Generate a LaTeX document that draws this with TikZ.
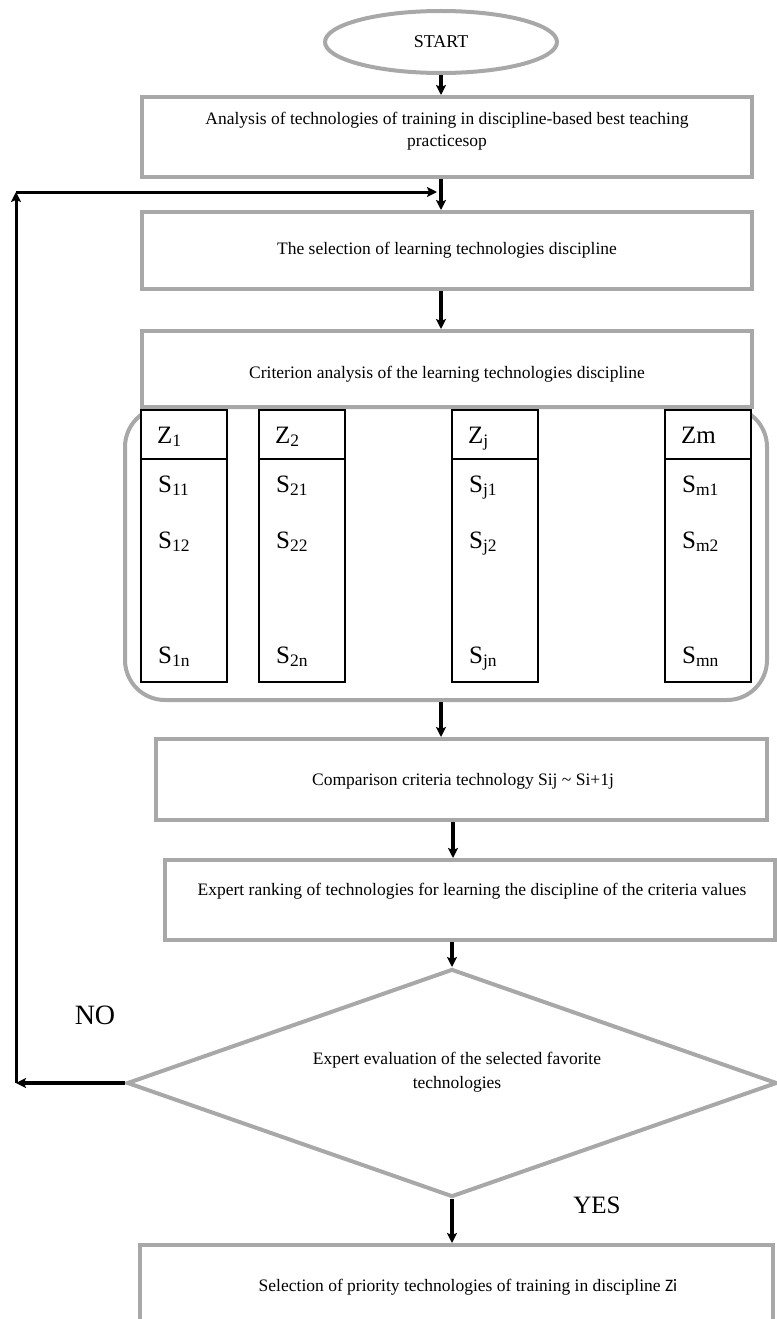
\documentclass[tikz,border=0pt]{standalone}
\usepackage{fontspec}
\setmainfont{Liberation Serif}
\newfontfamily\calib{Carlito}
\usetikzlibrary{shapes.geometric,arrows.meta,calc}
\definecolor{boxgray}{RGB}{168,168,168}
\begin{document}
\begin{tikzpicture}[x=1pt,y=-1pt,
  box/.style={draw=boxgray,line width=4pt,inner sep=0pt},
  col/.style={draw=black,line width=1.2pt,inner sep=0pt,minimum width=86pt},
  txt/.style={inner sep=0pt,font=\fontsize{17.5}{22}\selectfont,align=center},
  big/.style={inner sep=0pt,font=\fontsize{25}{30}\selectfont},
  arr/.style={line width=3.5pt,-{Stealth[length=10pt,width=10pt,inset=2pt]}},
  thinarr/.style={line width=3pt,-{Stealth[length=10pt,width=10pt,inset=2pt]}},
]
\useasboundingbox (0,0) rectangle (776,1319);
% start
\node[box,ellipse,minimum width=232pt,minimum height=62pt,font=\fontsize{18}{20}\selectfont] (start) at (441,42) {START};
% boxes
\node[box,minimum width=610pt,minimum height=80pt] (b1) at (447,137) {};
\node[txt] (t1) at (447,131) {Analysis of technologies of training in discipline-based best teaching\\practicesop};
\node[box,minimum width=610pt,minimum height=77pt] (b2) at (447,250.5) {};
\node[txt] (t2) at (447,250) {The selection of learning technologies discipline};
\node[box,minimum width=610pt,minimum height=76pt] (b3) at (447,369) {};
\node[txt] (t3) at (447,374) {Criterion analysis of the learning technologies discipline};
\node[box,rounded corners=40pt,minimum width=642pt,minimum height=293pt] (crit) at (446,553.5) {};
% columns
\foreach \n/\cx in {1/184,2/302,j/495,m/708}{
  \node[col,minimum height=49pt,fill=white] (z\n h) at (\cx,434.5) {};
  \node[col,minimum height=223pt,fill=white] (z\n b) at (\cx,570.5) {};
}
\node[big,anchor=base west] (lz1) at (157,443) {Z\textsubscript{1}};
\node[big,anchor=base west] (lz2) at (275,443) {Z\textsubscript{2}};
\node[big,anchor=base west] (lzj) at (468,443) {Z\textsubscript{j}};
\node[big,anchor=base west] (lzm) at (681,443) {Zm};
\node[big,anchor=base west] (s11) at (158,492) {S\textsubscript{11}};
\node[big,anchor=base west] (s12) at (158,548) {S\textsubscript{12}};
\node[big,anchor=base west] (s1n) at (158,663) {S\textsubscript{1n}};
\node[big,anchor=base west] (s21) at (276,492) {S\textsubscript{21}};
\node[big,anchor=base west] (s22) at (276,548) {S\textsubscript{22}};
\node[big,anchor=base west] (s2n) at (276,663) {S\textsubscript{2n}};
\node[big,anchor=base west] (sj1) at (469,492) {S\textsubscript{j1}};
\node[big,anchor=base west] (sj2) at (469,548) {S\textsubscript{j2}};
\node[big,anchor=base west] (sjn) at (469,663) {S\textsubscript{jn}};
\node[big,anchor=base west] (sm1) at (682,492) {S\textsubscript{m1}};
\node[big,anchor=base west] (sm2) at (682,548) {S\textsubscript{m2}};
\node[big,anchor=base west] (smn) at (682,663) {S\textsubscript{mn}};
% lower boxes
\node[box,minimum width=611pt,minimum height=81pt] (b4) at (461.5,779.5) {};
\node[txt] (t4) at (463,781) {Comparison criteria technology Sij \textasciitilde{} Si+1j};
\node[box,minimum width=610pt,minimum height=80pt] (b5) at (470,900) {};
\node[txt] (t5) at (472,891) {Expert ranking of technologies for learning the discipline of the criteria values};
\node[box,diamond,minimum width=650pt,minimum height=228pt] (dec) at (452,1083) {};
\node[txt,font=\fontsize{17.5}{24}\selectfont] (t6) at (457,1072) {Expert evaluation of the selected favorite\\technologies};
\node[box,minimum width=633pt,minimum height=80pt] (b6) at (456.5,1285) {};
\node[txt] (t7) at (468,1287) {Selection of priority technologies of training in discipline {\calib Zi}};
\node[big,font=\fontsize{28}{30}\selectfont] (no) at (95,1015) {NO};
\node[big] (yes) at (597,1205) {YES};
% arrows
\coordinate (ft) at (16,192);
\coordinate (fr) at (437,192);
\coordinate (c2) at (453,0);
\draw[arr] (start.south) -- (start.south |- b1.north);
\draw[arr] (b1.south -| start.south) -- (b2.north -| start.south);
\draw[arr] (b2.south -| start.south) -- (b3.north -| start.south);
\draw[arr] (crit.south -| start.south) -- (b4.north -| start.south);
\draw[arr] (b4.south -| c2) -- (b5.north -| c2);
\draw[arr] (b5.south -| dec.north) -- (dec.north);
\draw[arr] (dec.south) -- (dec.south |- b6.north);
\draw[arr] (dec.west) -- (dec.west -| ft);
\draw[thinarr] (dec.west -| ft) -- (ft);
\draw[thinarr] (ft) -- (fr);
\end{tikzpicture}
\end{document}
